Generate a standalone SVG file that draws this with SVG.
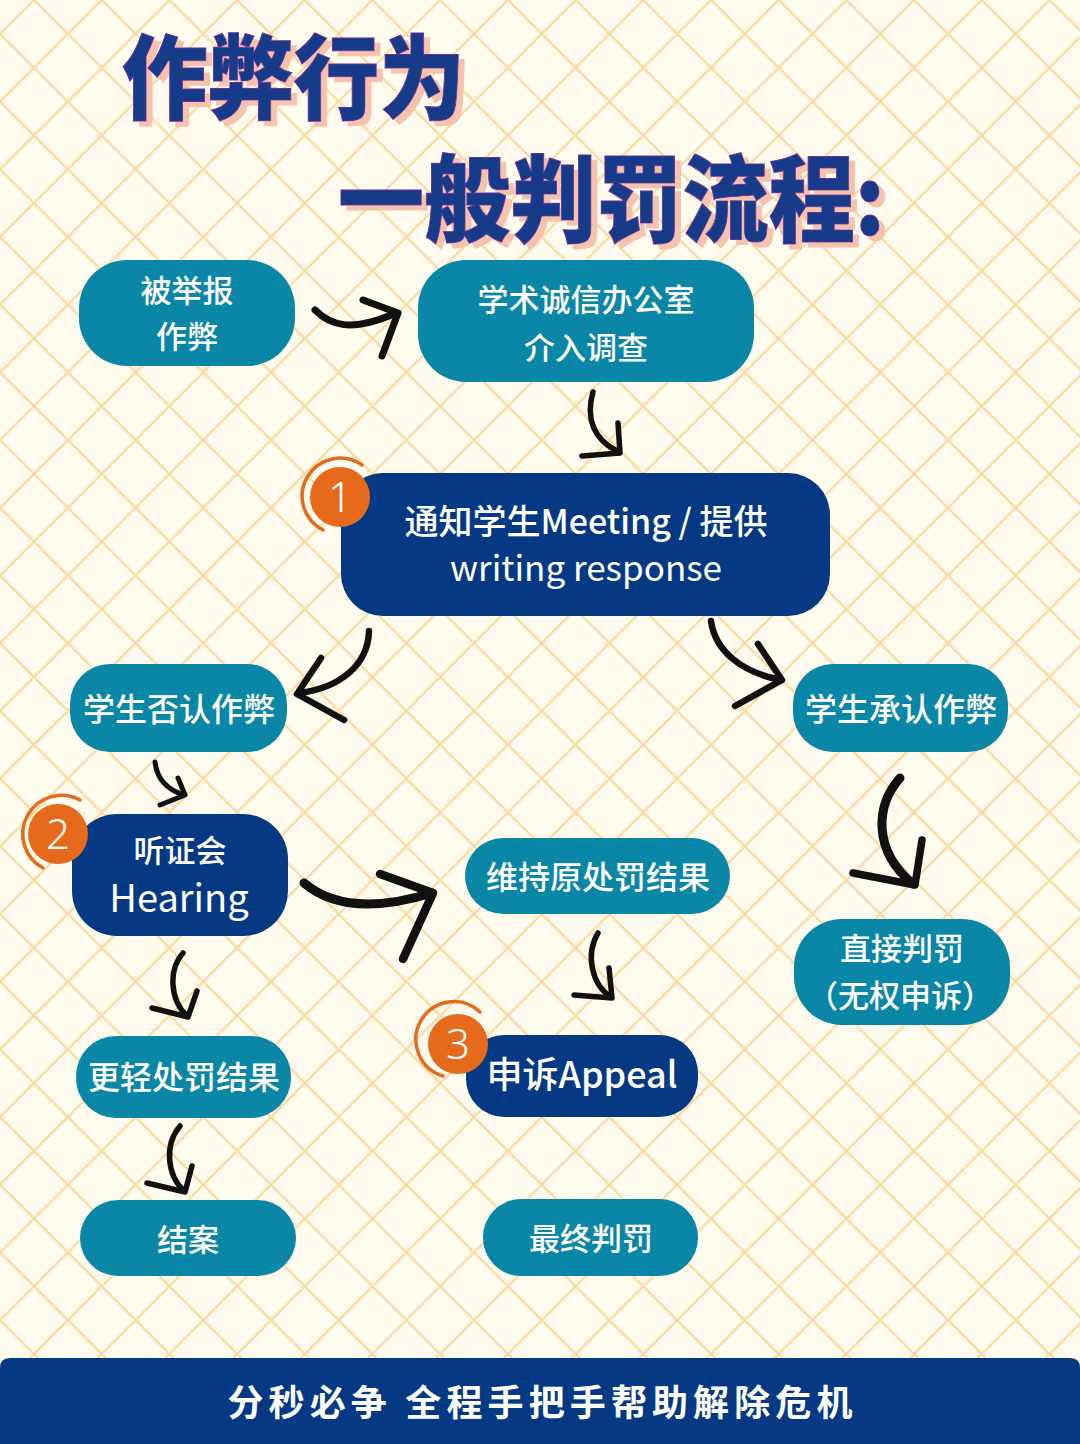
<svg xmlns="http://www.w3.org/2000/svg" width="1080" height="1444" viewBox="0 0 1080 1444">
<defs>
<pattern id="grid" patternUnits="userSpaceOnUse" x="34" y="0" width="67.7" height="67.7">
<path d="M0 0L67.7 67.7M67.7 0L0 67.7" stroke="#fcd89c" stroke-width="2.2" fill="none"/>
</pattern>
<filter id="shadow" x="-10%" y="-10%" width="130%" height="140%">
<feOffset in="SourceAlpha" dx="6" dy="5" result="off"/>
<feFlood flood-color="#f5c3ad"/>
<feComposite in2="off" operator="in" result="sh"/>
<feMerge><feMergeNode in="sh"/><feMergeNode in="SourceGraphic"/></feMerge>
</filter>
<style>
.teal{fill:#0a86a6}
.navy{fill:#053984}
.t{font-family:"Noto Sans CJK SC","Noto Sans",sans-serif;fill:#ffffff;text-anchor:middle;font-weight:500}
.title{font-family:"Noto Sans CJK SC",sans-serif;font-weight:900;fill:#123a88;stroke:#6b2f9c;stroke-width:1;filter:url(#shadow)}
.arrow path{fill:none;stroke:#111;stroke-linecap:round;stroke-linejoin:round}
.badge circle.f{fill:#e66a1c}
.badge path{fill:none;stroke:#e66a1c;stroke-width:3.5;stroke-linecap:round}
.badge text{font-family:"Noto Sans","Liberation Sans",sans-serif;fill:#fff;font-size:42px;text-anchor:middle;font-weight:300}
</style>
</defs>
<rect width="1080" height="1444" fill="#fffbee"/>
<rect width="1080" height="1444" fill="url(#grid)"/>

<g id="title">
<text class="title" x="122" y="112" font-size="92" textLength="343" lengthAdjust="spacingAndGlyphs">作弊行为</text>
<text class="title" x="338" y="235" font-size="95" textLength="547" lengthAdjust="spacingAndGlyphs">一般判罚流程:</text>
</g>

<g id="connectors" class="arrow">
<g id="a1"><path d="M315 310 C330 325 350 333 396 313" stroke-width="7"/><path d="M363 300 L398 313 L382 356" stroke-width="7"/></g>
<g id="a2"><path d="M593 392 C585 420 595 440 617 451" stroke-width="5.5"/><path d="M618 423 L620 453 L582 456" stroke-width="5.5"/></g>
<g id="a3"><path d="M369 631 C368 665 340 688 299 693" stroke-width="6.5"/><path d="M321 658 L297 694 L344 720" stroke-width="6.5"/></g>
<g id="a4"><path d="M711 621 C715 650 740 672 781 680" stroke-width="6.5"/><path d="M758 644 L782 680 L735 706" stroke-width="6.5"/></g>
<g id="a5"><path d="M155 762 C157 780 168 790 184 795" stroke-width="5"/><path d="M178 778 L185 795 L160 805" stroke-width="5"/></g>
<g id="a6"><path d="M304 883 C330 905 370 912 432 893" stroke-width="9"/><path d="M380 874 L433 893 L403 959" stroke-width="8.5"/></g>
<g id="a7"><path d="M900 778 C876 805 872 850 913 884" stroke-width="9"/><path d="M922 840 L915 885 L853 873" stroke-width="7.5"/></g>
<g id="a8"><path d="M598 933 C585 955 592 985 611 997" stroke-width="5.5"/><path d="M609 968 L612 998 L574 995" stroke-width="5.5"/></g>
<g id="a9"><path d="M183 953 C168 970 170 1000 187 1016" stroke-width="5.5"/><path d="M197 991 L188 1017 L152 1008" stroke-width="5.5"/></g>
<g id="a10"><path d="M180 1126 C164 1145 167 1175 184 1191" stroke-width="5.5"/><path d="M192 1166 L185 1192 L147 1183" stroke-width="5.5"/></g>
</g>

<g id="n1"><rect class="teal" x="79" y="260" width="216" height="106" rx="48"/><text class="t" font-size="31"><tspan x="187" y="302">被举报</tspan><tspan x="187" y="348">作弊</tspan></text></g>
<g id="n2"><rect class="teal" x="418" y="260" width="336" height="122" rx="48"/><text class="t" font-size="31"><tspan x="586" y="311">学术诚信办公室</tspan><tspan x="586" y="359">介入调查</tspan></text></g>
<g id="n3"><rect class="navy" x="341" y="473" width="489" height="143" rx="42"/><text class="t" font-size="34"><tspan x="586" y="534">通知学生Meeting / 提供</tspan><tspan x="586" y="581" font-weight="400" font-size="35">writing response</tspan></text></g>
<g id="n4"><rect class="teal" x="70" y="664" width="217" height="88" rx="40"/><text class="t" font-size="32" x="179" y="721">学生否认作弊</text></g>
<g id="n5"><rect class="teal" x="793" y="664" width="215" height="88" rx="40"/><text class="t" font-size="32" x="901" y="721">学生承认作弊</text></g>
<g id="n6"><rect class="navy" x="72" y="814" width="216" height="122" rx="45"/><text class="t"><tspan x="180" y="862" font-size="31">听证会</tspan><tspan x="179" y="912" font-size="38" font-weight="400">Hearing</tspan></text></g>
<g id="n7"><rect class="teal" x="465" y="838" width="265" height="76" rx="38"/><text class="t" font-size="32" x="598" y="889">维持原处罚结果</text></g>
<g id="n8"><rect class="teal" x="794" y="919" width="216" height="106" rx="48"/><text class="t" font-size="31"><tspan x="902" y="960">直接判罚</tspan><tspan x="900" y="1007">（无权申诉）</tspan></text></g>
<g id="n9"><rect class="teal" x="76" y="1036" width="215" height="82" rx="40"/><text class="t" font-size="32" x="184" y="1089">更轻处罚结果</text></g>
<g id="n10"><rect class="navy" x="466" y="1035" width="232" height="82" rx="38"/><text class="t" font-size="36" x="582" y="1088" font-weight="400">申诉Appeal</text></g>
<g id="n11"><rect class="teal" x="80" y="1200" width="216" height="76" rx="38"/><text class="t" font-size="31" x="188" y="1251">结案</text></g>
<g id="n12"><rect class="teal" x="483" y="1199" width="215" height="77" rx="38"/><text class="t" font-size="31" x="591" y="1250">最终判罚</text></g>

<g id="badge1" class="badge"><path d="M362 465 A38 38 0 1 0 323 530"/><circle class="f" cx="340" cy="497" r="30"/><text x="340" y="512">1</text></g>
<g id="badge2" class="badge"><path d="M80 800 A38 38 0 1 0 43 868"/><circle class="f" cx="58" cy="834" r="30"/><text x="58" y="849">2</text></g>
<g id="badge3" class="badge"><path d="M480 1012 A38 38 0 1 0 443 1076"/><circle class="f" cx="458" cy="1044" r="30"/><text x="458" y="1059">3</text></g>

<g id="footer"><path d="M0 1368 Q0 1358 10 1358 L1070 1358 Q1080 1358 1080 1368 L1080 1444 L0 1444 Z" fill="#053984"/><text x="540" y="1416" font-family="Noto Sans CJK SC,sans-serif" font-weight="700" font-size="36" fill="#fff" text-anchor="middle" textLength="625" lengthAdjust="spacing">分秒必争 全程手把手帮助解除危机</text></g>
</svg>
